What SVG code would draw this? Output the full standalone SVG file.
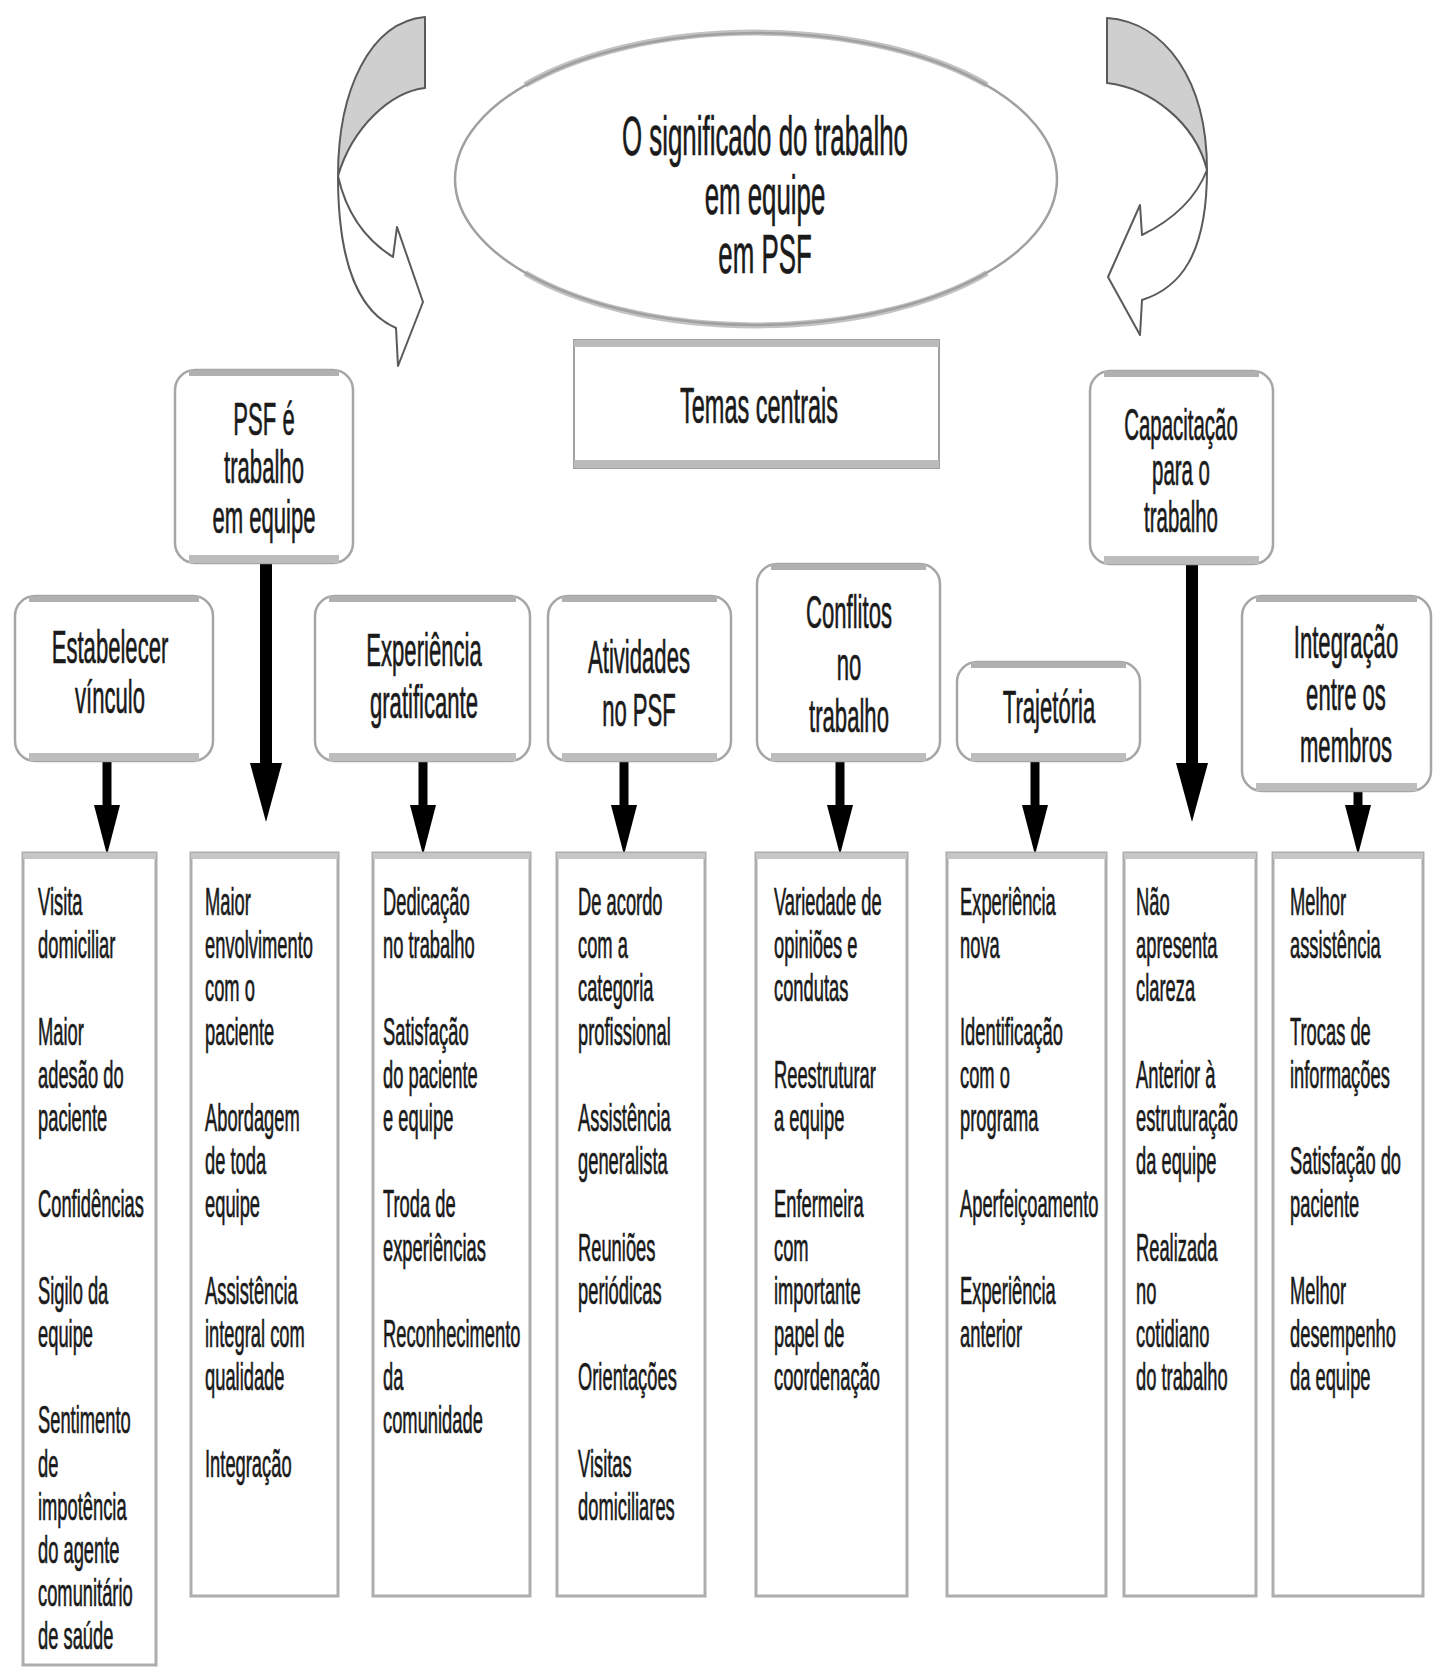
<svg xmlns="http://www.w3.org/2000/svg" width="1433" height="1668" viewBox="0 0 1433 1668">
<defs>
<style>
.t{font-family:"Liberation Sans",Arial,sans-serif;fill:#1a1a1a;stroke:#1a1a1a;stroke-width:0.7}
.l{font-size:39px}
.h{font-size:47px;text-anchor:middle}
.hb{fill:#fff;stroke:#a6a6a6;stroke-width:2.5}
.htop{stroke:#b0b0b0;stroke-width:6;fill:none}
.hbot{stroke:#bdbdbd;stroke-width:8;fill:none}
.cb{fill:#fff;stroke:#adadad;stroke-width:3}
.ctop{stroke:#c6c6c6;stroke-width:6;fill:none}
.thin{stroke:#000;stroke-width:9;fill:none}
.thick{stroke:#000;stroke-width:12;fill:none}
.band{fill:#cfcfcf;stroke:#5a5a5a;stroke-width:2;stroke-linejoin:round}
.white{fill:#fff;stroke:#5a5a5a;stroke-width:2;stroke-linejoin:round}
</style>
<marker id="ah" markerUnits="userSpaceOnUse" markerWidth="50" markerHeight="26" viewBox="0 0 50 26" refX="0" refY="13" orient="auto"><path d="M0,0 L50,13 L0,26 Z" fill="#000"/></marker>
<marker id="ahb" markerUnits="userSpaceOnUse" markerWidth="59" markerHeight="32" viewBox="0 0 59 32" refX="0" refY="16" orient="auto"><path d="M0,0 L59,16 L0,32 Z" fill="#000"/></marker>
</defs>
<rect width="1433" height="1668" fill="#fff"/>

<g id="curved-left">
<path class="white" d="M338,176 Q350,230 393,257 L397,227 L423,302 L398,366 L396,328 C365,315 338,275 338,176 Z"/>
<path class="band" d="M425,17 C370,22 338,90 338,176 C352,128 390,92 425,88 Z"/>
</g>
<g id="curved-right">
<path class="white" d="M1207,170 Q1191,211 1142,235 L1140,205 L1108,277 L1140,335 L1142,300 C1180,288 1207,255 1207,170 Z"/>
<path class="band" d="M1107,18 C1165,22 1207,80 1207,170 C1195,122 1150,88 1107,83 Z"/>
</g>

<g id="title">
<path d="M525,85 A301,146 0 0 1 987,85 M987,273 A301,146 0 0 1 525,273" fill="none" stroke="#c2c2c2" stroke-width="6"/>
<ellipse cx="756" cy="179" rx="301" ry="146" fill="none" stroke="#a0a0a0" stroke-width="2.5"/>
<text class="t" font-size="55" text-anchor="middle" transform="translate(765,155) scale(0.47,1)"><tspan x="0" y="0">O significado do trabalho</tspan><tspan x="0" y="59">em equipe</tspan><tspan x="0" y="118">em PSF</tspan></text>
</g>

<g id="temas">
<rect x="574" y="340" width="365" height="128" fill="#fff" stroke="#a0a0a0" stroke-width="2"/>
<path d="M574,343.5 H939" stroke="#bbb" stroke-width="7"/>
<path d="M574,464 H939" stroke="#bbb" stroke-width="8"/>
<text class="t" font-size="50" text-anchor="middle" transform="translate(759,423) scale(0.47,1)">Temas centrais</text>
</g>

<g id="connectors">
<path class="thick" d="M266,564 V763" marker-end="url(#ahb)"/>
<path class="thick" d="M1192,564 V763" marker-end="url(#ahb)"/>
<path class="thin" d="M107,761 V805" marker-end="url(#ah)"/>
<path class="thin" d="M423,761 V805" marker-end="url(#ah)"/>
<path class="thin" d="M624,761 V805" marker-end="url(#ah)"/>
<path class="thin" d="M840,761 V805" marker-end="url(#ah)"/>
<path class="thin" d="M1035,761 V805" marker-end="url(#ah)"/>
<path class="thin" d="M1358,791 V805" marker-end="url(#ah)"/>
</g>

<g id="n-psf">
<rect class="hb" x="175" y="370" width="178" height="193" rx="20"/>
<path class="htop" d="M189,373 H339"/><path class="hbot" d="M189,559 H339"/>
<text class="t h" transform="translate(264,435) scale(0.47,1)"><tspan x="0" y="0">PSF é</tspan><tspan x="0" y="48">trabalho</tspan><tspan x="0" y="98">em equipe</tspan></text>
</g>
<g id="n-capacitacao">
<rect class="hb" x="1090" y="371" width="183" height="193" rx="20"/>
<path class="htop" d="M1104,374 H1259"/><path class="hbot" d="M1104,560 H1259"/>
<text class="t h" style="font-size:43.5px" transform="translate(1181,440) scale(0.47,1)"><tspan x="0" y="0">Capacitação</tspan><tspan x="0" y="45">para o</tspan><tspan x="0" y="92">trabalho</tspan></text>
</g>
<g id="n-estabelecer">
<rect class="hb" x="15" y="596" width="198" height="165" rx="20"/>
<path class="htop" d="M29,599 H199"/><path class="hbot" d="M29,757 H199"/>
<text class="t h" transform="translate(110,663) scale(0.47,1)"><tspan x="0" y="0">Estabelecer</tspan><tspan x="0" y="50">vínculo</tspan></text>
</g>
<g id="n-experiencia">
<rect class="hb" x="315" y="596" width="215" height="165" rx="20"/>
<path class="htop" d="M329,599 H516"/><path class="hbot" d="M329,757 H516"/>
<text class="t h" transform="translate(424,666) scale(0.47,1)"><tspan x="0" y="0">Experiência</tspan><tspan x="0" y="52">gratificante</tspan></text>
</g>
<g id="n-atividades">
<rect class="hb" x="548" y="596" width="183" height="165" rx="20"/>
<path class="htop" d="M562,599 H717"/><path class="hbot" d="M562,757 H717"/>
<text class="t h" transform="translate(639,673) scale(0.47,1)"><tspan x="0" y="0">Atividades</tspan><tspan x="0" y="53">no PSF</tspan></text>
</g>
<g id="n-conflitos">
<rect class="hb" x="757" y="564" width="183" height="197" rx="20"/>
<path class="htop" d="M771,567 H926"/><path class="hbot" d="M771,757 H926"/>
<text class="t h" transform="translate(849,628) scale(0.47,1)"><tspan x="0" y="0">Conflitos</tspan><tspan x="0" y="52">no</tspan><tspan x="0" y="104">trabalho</tspan></text>
</g>
<g id="n-trajetoria">
<rect class="hb" x="957" y="662" width="183" height="99" rx="20"/>
<path class="htop" d="M971,665 H1126"/><path class="hbot" d="M971,757 H1126"/>
<text class="t h" transform="translate(1049,723) scale(0.47,1)">Trajetória</text>
</g>
<g id="n-integracao">
<rect class="hb" x="1242" y="596" width="189" height="195" rx="20"/>
<path class="htop" d="M1256,599 H1417"/><path class="hbot" d="M1256,787 H1417"/>
<text class="t h" transform="translate(1346,658) scale(0.47,1)"><tspan x="0" y="0">Integração</tspan><tspan x="0" y="52">entre os</tspan><tspan x="0" y="104">membros</tspan></text>
</g>

<g id="c1">
<rect class="cb" x="23" y="853" width="133" height="812"/><path class="ctop" d="M23,856 H156"/>
<text class="t l" transform="translate(38,915) scale(0.47,1)"><tspan x="0" y="0">Visita</tspan><tspan x="0" y="43.2">domiciliar</tspan><tspan x="0" y="129.6">Maior</tspan><tspan x="0" y="172.8">adesão do</tspan><tspan x="0" y="216">paciente</tspan><tspan x="0" y="302.4">Confidências</tspan><tspan x="0" y="388.8">Sigilo da</tspan><tspan x="0" y="432">equipe</tspan><tspan x="0" y="518.4">Sentimento</tspan><tspan x="0" y="561.6">de</tspan><tspan x="0" y="604.8">impotência</tspan><tspan x="0" y="648">do agente</tspan><tspan x="0" y="691.2">comunitário</tspan><tspan x="0" y="734.4">de saúde</tspan></text>
</g>
<g id="c2">
<rect class="cb" x="191" y="853" width="147" height="743"/><path class="ctop" d="M191,856 H338"/>
<text class="t l" transform="translate(205,915) scale(0.47,1)"><tspan x="0" y="0">Maior</tspan><tspan x="0" y="43.2">envolvimento</tspan><tspan x="0" y="86.4">com o</tspan><tspan x="0" y="129.6">paciente</tspan><tspan x="0" y="216">Abordagem</tspan><tspan x="0" y="259.2">de toda</tspan><tspan x="0" y="302.4">equipe</tspan><tspan x="0" y="388.8">Assistência</tspan><tspan x="0" y="432">integral com</tspan><tspan x="0" y="475.2">qualidade</tspan><tspan x="0" y="561.6">Integração</tspan></text>
</g>
<g id="c3">
<rect class="cb" x="373" y="853" width="157" height="743"/><path class="ctop" d="M373,856 H530"/>
<text class="t l" transform="translate(383,915) scale(0.47,1)"><tspan x="0" y="0">Dedicação</tspan><tspan x="0" y="43.2">no trabalho</tspan><tspan x="0" y="129.6">Satisfação</tspan><tspan x="0" y="172.8">do paciente</tspan><tspan x="0" y="216">e equipe</tspan><tspan x="0" y="302.4">Troda de</tspan><tspan x="0" y="345.6">experiências</tspan><tspan x="0" y="432">Reconhecimento</tspan><tspan x="0" y="475.2">da</tspan><tspan x="0" y="518.4">comunidade</tspan></text>
</g>
<g id="c4">
<rect class="cb" x="557" y="853" width="148" height="743"/><path class="ctop" d="M557,856 H705"/>
<text class="t l" transform="translate(578,915) scale(0.47,1)"><tspan x="0" y="0">De acordo</tspan><tspan x="0" y="43.2">com a</tspan><tspan x="0" y="86.4">categoria</tspan><tspan x="0" y="129.6">profissional</tspan><tspan x="0" y="216">Assistência</tspan><tspan x="0" y="259.2">generalista</tspan><tspan x="0" y="345.6">Reuniões</tspan><tspan x="0" y="388.8">periódicas</tspan><tspan x="0" y="475.2">Orientações</tspan><tspan x="0" y="561.6">Visitas</tspan><tspan x="0" y="604.8">domiciliares</tspan></text>
</g>
<g id="c5">
<rect class="cb" x="756" y="853" width="151" height="743"/><path class="ctop" d="M756,856 H907"/>
<text class="t l" transform="translate(774,915) scale(0.47,1)"><tspan x="0" y="0">Variedade de</tspan><tspan x="0" y="43.2">opiniões e</tspan><tspan x="0" y="86.4">condutas</tspan><tspan x="0" y="172.8">Reestruturar</tspan><tspan x="0" y="216">a equipe</tspan><tspan x="0" y="302.4">Enfermeira</tspan><tspan x="0" y="345.6">com</tspan><tspan x="0" y="388.8">importante</tspan><tspan x="0" y="432">papel de</tspan><tspan x="0" y="475.2">coordenação</tspan></text>
</g>
<g id="c6">
<rect class="cb" x="947" y="853" width="159" height="743"/><path class="ctop" d="M947,856 H1106"/>
<text class="t l" transform="translate(960,915) scale(0.47,1)"><tspan x="0" y="0">Experiência</tspan><tspan x="0" y="43.2">nova</tspan><tspan x="0" y="129.6">Identificação</tspan><tspan x="0" y="172.8">com o</tspan><tspan x="0" y="216">programa</tspan><tspan x="0" y="302.4">Aperfeiçoamento</tspan><tspan x="0" y="388.8">Experiência</tspan><tspan x="0" y="432">anterior</tspan></text>
</g>
<g id="c7">
<rect class="cb" x="1124" y="853" width="132" height="743"/><path class="ctop" d="M1124,856 H1256"/>
<text class="t l" transform="translate(1136,915) scale(0.47,1)"><tspan x="0" y="0">Não</tspan><tspan x="0" y="43.2">apresenta</tspan><tspan x="0" y="86.4">clareza</tspan><tspan x="0" y="172.8">Anterior à</tspan><tspan x="0" y="216">estruturação</tspan><tspan x="0" y="259.2">da equipe</tspan><tspan x="0" y="345.6">Realizada</tspan><tspan x="0" y="388.8">no</tspan><tspan x="0" y="432">cotidiano</tspan><tspan x="0" y="475.2">do trabalho</tspan></text>
</g>
<g id="c8">
<rect class="cb" x="1273" y="853" width="150" height="743"/><path class="ctop" d="M1273,856 H1423"/>
<text class="t l" transform="translate(1290,915) scale(0.47,1)"><tspan x="0" y="0">Melhor</tspan><tspan x="0" y="43.2">assistência</tspan><tspan x="0" y="129.6">Trocas de</tspan><tspan x="0" y="172.8">informações</tspan><tspan x="0" y="259.2">Satisfação do</tspan><tspan x="0" y="302.4">paciente</tspan><tspan x="0" y="388.8">Melhor</tspan><tspan x="0" y="432">desempenho</tspan><tspan x="0" y="475.2">da equipe</tspan></text>
</g>
</svg>
